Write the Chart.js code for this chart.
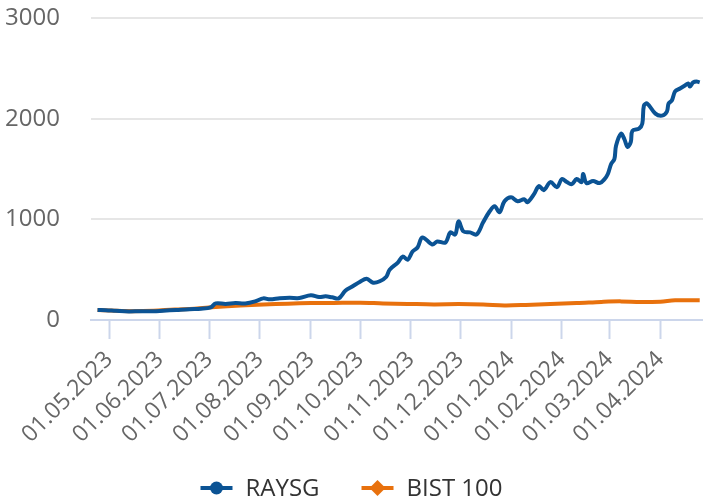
<!DOCTYPE html>
<html>
<head>
<meta charset="utf-8">
<script src="https://cdn.jsdelivr.net/npm/chart.js@4/dist/chart.umd.min.js"></script>
<style>
  html, body { margin: 0; padding: 0; background: #fff; }
  #wrap { width: 703px; height: 504px; position: relative; }
</style>
</head>
<body>
<div id="wrap"><canvas id="chart"></canvas></div>
<script>
// RAYSG vs BIST 100, normalised to 100
const raysgDates = [
  "2023-04-24", "2023-04-29", "2023-05-05", "2023-05-13", "2023-05-20", "2023-05-28",
  "2023-06-03", "2023-06-11", "2023-06-19", "2023-06-26", "2023-07-02", "2023-07-05",
  "2023-07-11", "2023-07-17", "2023-07-23", "2023-07-29", "2023-08-03", "2023-08-07",
  "2023-08-13", "2023-08-19", "2023-08-25", "2023-09-01", "2023-09-06", "2023-09-10",
  "2023-09-14", "2023-09-18", "2023-09-22", "2023-09-26", "2023-10-01", "2023-10-05",
  "2023-10-09", "2023-10-13", "2023-10-17", "2023-10-19", "2023-10-24", "2023-10-27",
  "2023-10-30", "2023-11-02", "2023-11-05", "2023-11-08", "2023-11-14", "2023-11-17",
  "2023-11-22", "2023-11-25", "2023-11-28", "2023-11-30", "2023-12-03", "2023-12-07",
  "2023-12-11", "2023-12-15", "2023-12-19", "2023-12-22", "2023-12-25", "2023-12-28",
  "2024-01-01", "2024-01-05", "2024-01-09", "2024-01-11", "2024-01-15", "2024-01-18",
  "2024-01-21", "2024-01-25", "2024-01-29", "2024-02-01", "2024-02-04", "2024-02-07",
  "2024-02-10", "2024-02-13", "2024-02-14", "2024-02-16", "2024-02-20", "2024-02-24",
  "2024-02-27", "2024-02-29", "2024-03-02", "2024-03-04", "2024-03-05", "2024-03-08",
  "2024-03-10", "2024-03-12", "2024-03-14", "2024-03-15", "2024-03-19", "2024-03-21",
  "2024-03-22", "2024-03-24", "2024-03-29", "2024-04-02", "2024-04-05", "2024-04-06",
  "2024-04-08", "2024-04-10", "2024-04-13", "2024-04-16", "2024-04-18", "2024-04-19",
  "2024-04-21", "2024-04-23", "2024-04-25"
]
const raysgValues = [
  100, 98, 92, 85, 88, 86,
  92, 100, 108, 112, 125, 165,
  160, 168, 165, 185, 215, 205,
  215, 220, 218, 245, 228, 235,
  225, 215, 290, 330, 380, 410,
  370, 385, 430, 500, 570, 630,
  600, 680, 720, 820, 750, 780,
  770, 870, 850, 980, 880, 870,
  850, 970, 1080, 1130, 1070, 1180,
  1220, 1180, 1200, 1170, 1250, 1330,
  1290, 1370, 1320, 1400, 1370, 1350,
  1400, 1370, 1450, 1360, 1380, 1360,
  1400, 1450, 1550, 1600, 1730, 1850,
  1800, 1720, 1770, 1880, 1900, 1950,
  2130, 2150, 2050, 2030, 2070, 2150,
  2180, 2270, 2300, 2330, 2350, 2320,
  2360, 2370, 2360
]

const bistDates = [
  "2023-04-24", "2023-05-05", "2023-05-15", "2023-05-28", "2023-06-10", "2023-06-22",
  "2023-07-05", "2023-07-20", "2023-08-03", "2023-08-18", "2023-09-01", "2023-09-15",
  "2023-10-01", "2023-10-15", "2023-10-30", "2023-11-15", "2023-11-30", "2023-12-15",
  "2023-12-28", "2024-01-10", "2024-01-25", "2024-02-10", "2024-02-25", "2024-03-08",
  "2024-03-20", "2024-04-01", "2024-04-10", "2024-04-25"
]
const bistValues = [
  100, 92, 88, 92, 105, 112,
  130, 145, 155, 162, 168, 170,
  172, 165, 160, 155, 158, 155,
  145, 150, 160, 168, 180, 185,
  178, 182, 195, 195
]

const tickLabels = [
  "01.05.2023", "01.06.2023", "01.07.2023", "01.08.2023", "01.09.2023", "01.10.2023",
  "01.11.2023", "01.12.2023", "01.01.2024", "01.02.2024", "01.03.2024", "01.04.2024"
]
const yTicks = [0, 1000, 2000, 3000]

const xMin = "2023-04-20"
const xMax = "2024-04-27"

// -----------------------------
// helpers
// -----------------------------
function isoToTime(s) {
  const p = s.split("-").map(Number)
  return Date.UTC(p[0], p[1] - 1, p[2])
}
function dmyToTime(s) {
  const p = s.split(".").map(Number)
  return Date.UTC(p[2], p[1] - 1, p[0])
}
function timeToDmy(t) {
  const d = new Date(t)
  const dd = String(d.getUTCDate()).padStart(2, "0")
  const mm = String(d.getUTCMonth() + 1).padStart(2, "0")
  return dd + "." + mm + "." + d.getUTCFullYear()
}
function toPoints(dates, values) {
  return dates.map((d, i) => ({ x: isoToTime(d), y: values[i] }))
}

const BLUE = "#0b5394"
const ORANGE = "#e8710d"
const FONT = "Open Sans"

// -----------------------------
// legend at the bottom: line + marker, then label
// -----------------------------
const bottomLegend = {
  id: "bottomLegend",
  afterDraw(chart) {
    const ctx = chart.ctx
    const y = 488
    const markerW = 32
    const gapText = 13
    const gapItems = 42
    ctx.save()
    ctx.font = "24px '" + FONT + "'"
    const items = chart.data.datasets.map(ds => ({
      ds, w: markerW + gapText + ctx.measureText(ds.label).width
    }))
    const total = items.reduce((s, it) => s + it.w, 0) + gapItems * (items.length - 1)
    let x = (chart.width - total) / 2
    items.forEach(({ ds, w }) => {
      const c = ds.borderColor
      ctx.strokeStyle = c
      ctx.fillStyle = c
      ctx.lineWidth = 4
      ctx.beginPath()
      ctx.moveTo(x, y)
      ctx.lineTo(x + markerW, y)
      ctx.stroke()
      const cx = x + markerW / 2
      ctx.beginPath()
      if (ds.pointStyle === "rectRot") {
        ctx.moveTo(cx, y - 8)
        ctx.lineTo(cx + 8, y)
        ctx.lineTo(cx, y + 8)
        ctx.lineTo(cx - 8, y)
        ctx.closePath()
      } else {
        ctx.arc(cx, y, 6.5, 0, Math.PI * 2)
      }
      ctx.fill()
      ctx.fillStyle = "#333333"
      ctx.textBaseline = "middle"
      ctx.textAlign = "left"
      ctx.fillText(ds.label, x + markerW + gapText, y + 1)
      x += w + gapItems
    })
    ctx.restore()
  }
}

new Chart(document.getElementById("chart"), {
  type: "line",
  data: {
    datasets: [
      {
        label: "RAYSG",
        data: toPoints(raysgDates, raysgValues),
        borderColor: BLUE,
        backgroundColor: BLUE,
        pointStyle: "circle",
        borderWidth: 4,
        pointRadius: 0,
        tension: 0.35
      },
      {
        label: "BIST 100",
        data: toPoints(bistDates, bistValues),
        borderColor: ORANGE,
        backgroundColor: ORANGE,
        pointStyle: "rectRot",
        borderWidth: 4,
        pointRadius: 0,
        tension: 0.35
      }
    ]
  },
  plugins: [bottomLegend],
  options: {
    responsive: true,
    maintainAspectRatio: false,
    animation: false,
    layout: { padding: { left: 0, right: 0, top: 18, bottom: 40 } },
    plugins: {
      tooltip: { enabled: false },
      legend: { display: false }
    },
    scales: {
      x: {
        type: "linear",
        min: isoToTime(xMin),
        max: isoToTime(xMax),
        afterBuildTicks: axis => {
          axis.ticks = tickLabels.map(l => ({ value: dmyToTime(l) }))
        },
        afterFit: axis => { axis.height = 144 },
        grid: {
          drawOnChartArea: false,
          drawTicks: true,
          tickLength: 19,
          tickWidth: 2,
          color: "#ccd6eb"
        },
        border: { display: true, color: "#ccd6eb", width: 2 },
        ticks: {
          autoSkip: false,
          minRotation: 45,
          maxRotation: 45,
          padding: 7,
          color: "#666666",
          font: { family: FONT, size: 23 },
          callback: v => timeToDmy(v)
        }
      },
      y: {
        min: 0,
        max: 3000,
        afterBuildTicks: axis => {
          axis.ticks = yTicks.map(v => ({ value: v }))
        },
        afterFit: axis => {
          axis.width = 91
          axis.paddingTop = 0
          axis.paddingBottom = 0
        },
        grid: {
          color: "#e6e6e6",
          lineWidth: 2,
          drawTicks: false
        },
        border: { display: false },
        ticks: {
          padding: 31,
          color: "#666666",
          font: { family: FONT, size: 24 },
          callback: v => String(v)
        }
      }
    }
  }
})
</script>
</body>
</html>
